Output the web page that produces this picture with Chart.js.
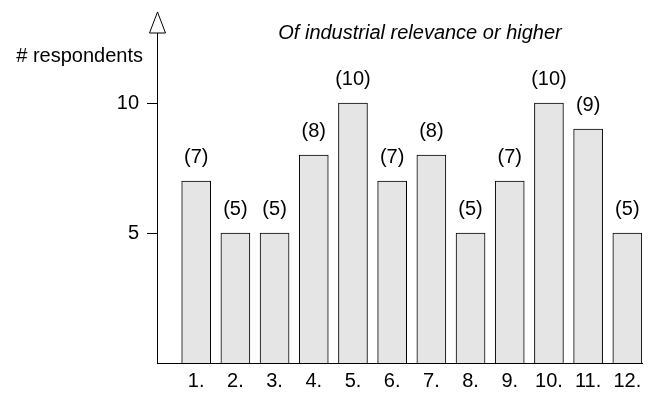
<!DOCTYPE html>
<html>
<head>
<meta charset="utf-8">
<script src="https://cdn.jsdelivr.net/npm/chart.js@4.4.1/dist/chart.umd.min.js"></script>
<style>
  html, body { margin: 0; padding: 0; background: #fff; overflow: hidden; }
  #wrap { width: 657px; height: 393px; }
</style>
</head>
<body>
<div id="wrap"><canvas id="chart"></canvas></div>
<script>
// dados
const categories = ['1.', '2.', '3.', '4.', '5.', '6.', '7.', '8.', '9.', '10.', '11.', '12.'];
const respondents = [7, 5, 5, 8, 10, 7, 8, 5, 7, 10, 9, 5];
const yTicks = [5, 10];
const chartTitle = 'Of industrial relevance or higher';
const yLabel = '# respondents';

const FONT = '"Liberation Sans", Arial, Helvetica, sans-serif';
const SIZE = 20;

// eixos com seta, título e rótulos (n) acima das barras
const extras = {
    id: 'extras',
    afterDatasetsDraw(chart) {
        const ctx = chart.ctx;
        const area = chart.chartArea;
        ctx.save();
        ctx.strokeStyle = '#000';
        ctx.lineWidth = 1;
        ctx.beginPath();
        ctx.moveTo(area.left + 0.5, area.bottom);
        ctx.lineTo(area.left + 0.5, area.top);
        ctx.moveTo(area.left, area.bottom + 0.5);
        ctx.lineTo(area.right, area.bottom + 0.5);
        ctx.stroke();

        // seta no topo do eixo y
        const ax = area.left + 0.5;
        ctx.beginPath();
        ctx.moveTo(ax, area.top - 21);
        ctx.lineTo(ax - 8, area.top);
        ctx.lineTo(ax + 8, area.top);
        ctx.closePath();
        ctx.fillStyle = '#fff';
        ctx.fill();
        ctx.stroke();

        ctx.fillStyle = '#000';
        ctx.font = SIZE + 'px ' + FONT;
        ctx.textAlign = 'center';
        ctx.textBaseline = 'middle';
        chart.getDatasetMeta(0).data.forEach((bar, i) => {
            ctx.fillText('(' + respondents[i] + ')', bar.x, bar.y - 24);
        });

        // rótulos do eixo x
        const xs = chart.scales.x;
        categories.forEach((c, i) => {
            ctx.fillText(c, xs.getPixelForValue(i + 1), area.bottom + 18);
        });

        ctx.textAlign = 'right';
        ctx.fillText(yLabel, 143, 56);

        ctx.font = 'italic ' + SIZE + 'px ' + FONT;
        ctx.textAlign = 'center';
        ctx.fillText(chartTitle, 420, 33);
        ctx.restore();
    }
};

new Chart(document.getElementById('chart'), {
    type: 'bar',
    data: {
        datasets: [{
            data: respondents.map((v, i) => ({ x: i + 1, y: v })),
            backgroundColor: '#e5e5e5',
            borderColor: '#000',
            borderWidth: 1,
            barThickness: 29
        }]
    },
    options: {
        responsive: true,
        maintainAspectRatio: false,
        animation: false,
        layout: { padding: { top: 33, right: 14, left: 0, bottom: 0 } },
        plugins: {
            legend: { display: false },
            tooltip: { enabled: false }
        },
        scales: {
            x: {
                type: 'linear',
                min: 0,
                max: 12.4,
                offset: false,
                border: { display: false },
                grid: { display: false },
                afterFit: (scale) => { scale.height = 30; },
                ticks: { display: false }
            },
            y: {
                min: 0,
                max: 12.7,
                border: { display: false },
                grid: {
                    drawOnChartArea: false,
                    drawTicks: true,
                    tickLength: 10,
                    color: '#000'
                },
                afterBuildTicks: (scale) => {
                    scale.ticks = yTicks.map(v => ({ value: v }));
                },
                afterFit: (scale) => { scale.width = 157; },
                ticks: {
                    color: '#000',
                    font: { family: FONT, size: SIZE },
                    padding: 8
                }
            }
        }
    },
    plugins: [extras]
});
</script>
</body>
</html>
